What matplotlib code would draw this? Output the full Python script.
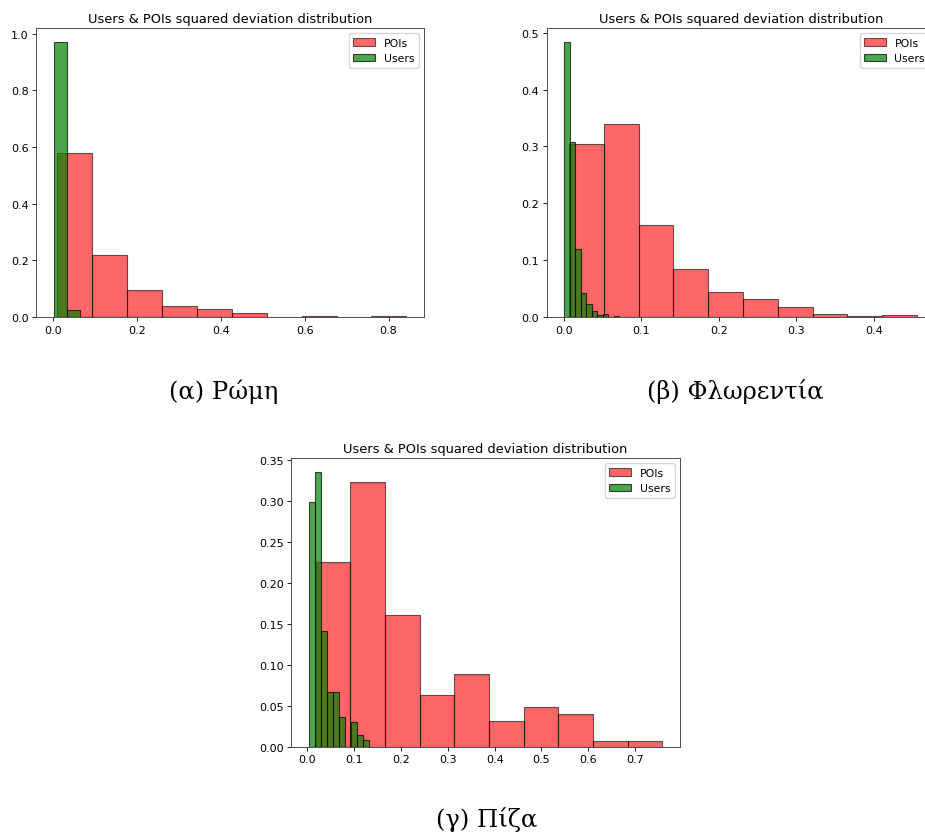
import numpy as np
import matplotlib
matplotlib.use('Agg')
import matplotlib.pyplot as plt

# Ρώμη
rome_poi_edges = [0.0096, 0.0929, 0.1762, 0.2595, 0.3428, 0.4261, 0.5094, 0.5927, 0.676, 0.7593, 0.8426]
rome_poi_h = [0.580, 0.218, 0.097, 0.039, 0.027, 0.015, 0.0, 0.004, 0.001, 0.004]
rome_usr_edges = [0.001, 0.032, 0.063, 0.094, 0.125, 0.156, 0.187, 0.218, 0.249, 0.280, 0.311]
rome_usr_h = [0.972, 0.025, 0.0, 0.0, 0.0, 0.0, 0.0, 0.0, 0.0, 0.0]

# Φλωρεντία
flo_poi_edges = [0.0068, 0.0517, 0.0966, 0.1415, 0.1864, 0.2313, 0.2762, 0.3211, 0.366, 0.4109, 0.4558]
flo_poi_h = [0.305, 0.339, 0.161, 0.085, 0.044, 0.031, 0.018, 0.006, 0.002, 0.004]
flo_usr_edges = [0.0009, 0.008, 0.0151, 0.0222, 0.0293, 0.0364, 0.0435, 0.0506, 0.0577, 0.0648, 0.0719]
flo_usr_h = [0.484, 0.308, 0.120, 0.042, 0.022, 0.011, 0.003, 0.006, 0.0, 0.002]

# Πίζα
pisa_poi_edges = [0.018, 0.092, 0.166, 0.240, 0.314, 0.388, 0.462, 0.536, 0.610, 0.684, 0.758]
pisa_poi_h = [0.226, 0.323, 0.161, 0.064, 0.089, 0.032, 0.049, 0.040, 0.007, 0.007]
pisa_usr_edges = [0.0029, 0.0158, 0.0287, 0.0416, 0.0545, 0.0674, 0.0803, 0.0932, 0.1061, 0.119, 0.1319]
pisa_usr_h = [0.299, 0.336, 0.141, 0.067, 0.067, 0.037, 0.0, 0.030, 0.015, 0.008]

captions = ['(α) Ρώμη', '(β) Φλωρεντία', '(γ) Πίζα']
title = 'Users & POIs squared deviation distribution'

W, H = 925, 837
fig = plt.figure(figsize=(W / 100, H / 100), dpi=100)


def px_axes(left, top, right, bottom):
    return fig.add_axes([left / W, (H - bottom) / H, (right - left) / W, (bottom - top) / H])


def panel(ax, pe, ph, ue, uh):
    ax.bar(pe[:-1], ph, width=np.diff(pe), align='edge', color='red', alpha=0.6,
           edgecolor='black', linewidth=0.8, label='POIs')
    ax.bar(ue[:-1], uh, width=np.diff(ue), align='edge', color='green', alpha=0.7,
           edgecolor='black', linewidth=0.8, label='Users')
    ax.set_title(title, fontsize=9.4, pad=4.5)
    ax.tick_params(labelsize=8, length=2.7, width=0.6, pad=2.7)
    for s in ax.spines.values():
        s.set_linewidth(0.6)
        s.set_edgecolor('#333333')
    ax.legend(loc='upper right', fontsize=7.8)


ax1 = px_axes(36, 29, 424, 318)
panel(ax1, rome_poi_edges, rome_poi_h, rome_usr_edges, rome_usr_h)

ax2 = px_axes(546.7, 29, 934.7, 318)
panel(ax2, flo_poi_edges, flo_poi_h, flo_usr_edges, flo_usr_h)

ax3 = px_axes(291, 459, 680, 748)
panel(ax3, pisa_poi_edges, pisa_poi_h, pisa_usr_edges, pisa_usr_h)

cap_font = dict(family=['DejaVu Serif'], fontsize=17.5, ha='center', va='center')
fig.text(224 / W, 1 - 392 / H, captions[0], **cap_font)
fig.text(735 / W, 1 - 392 / H, captions[1], **cap_font)
fig.text(487 / W, 1 - 820 / H, captions[2], **cap_font)

fig.savefig('out.png', dpi=100)
